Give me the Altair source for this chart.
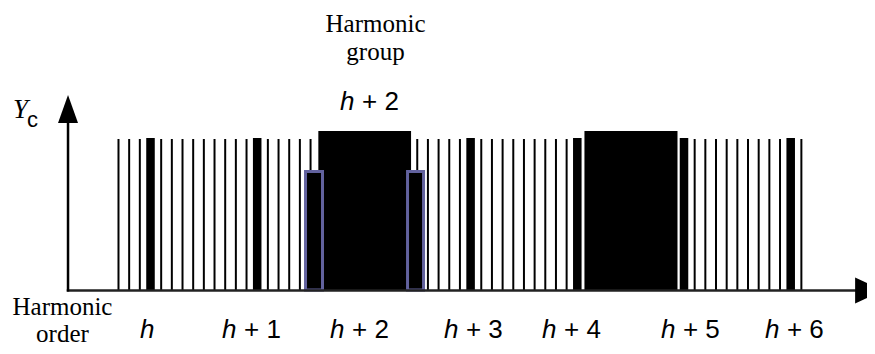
import altair as alt
import pandas as pd

# ---- data (x in spectral-bin units: 10 bins per harmonic order, h at bin 0) ----
thin_bins = [-3, -2, -1, 1, 2, 3, 4, 5, 6, 7, 8, 9, 11, 12, 13, 14, 15,
             25, 26, 27, 28, 29, 31, 32, 33, 34, 35, 36, 37, 38, 39,
             51, 52, 53, 54, 55, 56, 57, 58, 59, 61]
thin_heights = [1.0] * len(thin_bins)

thick_bins = [0, 10, 30, 40, 50, 60]
thick_heights = [1.007, 1.007, 1.007, 1.007, 1.007, 1.007]

block_start = [15.73, 40.67]
block_end = [24.42, 49.39]
block_height = [1.053, 1.053]

edge_start = [14.53, 24.09]
edge_end = [16.12, 25.59]
edge_height = [0.785, 0.785]

order_h_pos = [-0.98, 6.70, 16.82, 27.50, 36.69, 47.84, 57.58]
order_suffix = ["", "+ 1", "+ 2", "+ 3", "+ 4", "+ 5", "+ 6"]

# ---- scales ----
PX = 10.67
W = 859
H = 338
XD = [-(150.5 - 8) / PX, -(150.5 - 8) / PX + W / PX]
YD = [1.8675 - H / 151, 1.8675]
xs = alt.Scale(domain=XD, nice=False, zero=False)
ys = alt.Scale(domain=YD, nice=False, zero=False)

SANS = "'Liberation Sans', Arial"
SERIF = "'Liberation Serif', 'Times New Roman'"


def X(f="x"):
    return alt.X(f"{f}:Q", scale=xs, axis=None)


def Y(f="y"):
    return alt.Y(f"{f}:Q", scale=ys, axis=None)


thin = alt.Chart(pd.DataFrame({"x": thin_bins, "y2": thin_heights})).transform_calculate(
    y0="0"
).mark_rule(color="black", strokeWidth=2).encode(x=X(), y=Y("y0"), y2="y2:Q")

thick = alt.Chart(pd.DataFrame({"b": thick_bins, "y2": thick_heights})).transform_calculate(
    x="datum.b - 0.4", x2="datum.b + 0.4", y0="0"
).mark_rect(color="black").encode(x=X(), x2="x2:Q", y=Y("y0"), y2="y2:Q")

blocks = alt.Chart(pd.DataFrame({"x": block_start, "x2": block_end, "y2": block_height})).transform_calculate(
    y0="0"
).mark_rect(color="black").encode(x=X(), x2="x2:Q", y=Y("y0"), y2="y2:Q")

edges = alt.Chart(pd.DataFrame({"x": edge_start, "x2": edge_end, "y2": edge_height})).transform_calculate(
    y0="0"
).mark_rect(fill="black", stroke="#62629e", strokeWidth=3).encode(
    x=X(), x2="x2:Q", y=Y("y0"), y2="y2:Q"
)

# axes (drawn as lines with arrow heads)
yaxis = alt.Chart(pd.DataFrame({"x": [-7.73], "y": [-0.01], "y2": [1.15]})).mark_rule(
    color="black", strokeWidth=2.5
).encode(x=X(), y=Y(), y2="y2:Q")
xaxis = alt.Chart(pd.DataFrame({"x": [-7.85], "x2": [66.6], "y": [-0.003]})).mark_rule(
    color="#222", strokeWidth=2.5
).encode(x=X(), x2="x2:Q", y=Y())
yhead = alt.Chart(pd.DataFrame({"x": [-7.73], "y": [1.199]})).mark_point(
    shape="M0,-1L0.714,1L-0.714,1Z", size=784, filled=True, color="black", opacity=1
).encode(x=X(), y=Y())
xhead = alt.Chart(pd.DataFrame({"x": [67.35], "y": [-0.003]})).mark_point(
    shape="M-1,-0.93L1,0L-1,0.93Z", size=784, filled=True, color="black", opacity=1
).encode(x=X(), y=Y())


def txt(x, y, t, **kw):
    return alt.Chart(pd.DataFrame({"x": x, "y": y, "t": t})).mark_text(
        color="black", baseline="alphabetic", **kw
    ).encode(x=X(), y=Y(), text="t:N")


base_y = -0.318
FS = 26
lab_h = txt(order_h_pos, [base_y] * 7, ["h"] * 7, font=SANS, fontSize=FS,
            fontStyle="italic", align="left")
lab_rest = txt(order_h_pos[1:], [base_y] * 6, order_suffix[1:], font=SANS, fontSize=FS,
               align="left", dx=22)

top_h = txt([17.77], [1.192], ["h"], font=SANS, fontSize=FS, fontStyle="italic", align="left")
top_rest = txt([17.77], [1.192], ["+ 2"], font=SANS, fontSize=FS, align="left", dx=22)

hg1 = txt([21.09], [1.709], ["Harmonic"], font=SERIF, fontSize=25, align="center")
hg2 = txt([21.09], [1.523], ["group"], font=SERIF, fontSize=25, align="center")

ho1 = txt([-8.25], [-0.166], ["Harmonic"], font=SERIF, fontSize=25, align="center")
ho2 = txt([-8.25], [-0.345], ["order"], font=SERIF, fontSize=25, align="center")

yc1 = txt([-12.89], [1.139], ["Y"], font=SERIF, fontSize=27, fontStyle="italic", align="left")
yc2 = txt([-11.57], [1.079], ["c"], font=SANS, fontSize=22, align="left")

chart = alt.layer(
    thin, thick, blocks, edges, xaxis, yaxis, xhead, yhead,
    lab_h, lab_rest, top_h, top_rest, hg1, hg2, ho1, ho2, yc1, yc2
).properties(
    width=W, height=H, autosize=alt.AutoSizeParams(type="none"), padding=0
).configure_view(stroke=None)

chart.save("out.html", embed_options={"renderer": "svg", "actions": False})
